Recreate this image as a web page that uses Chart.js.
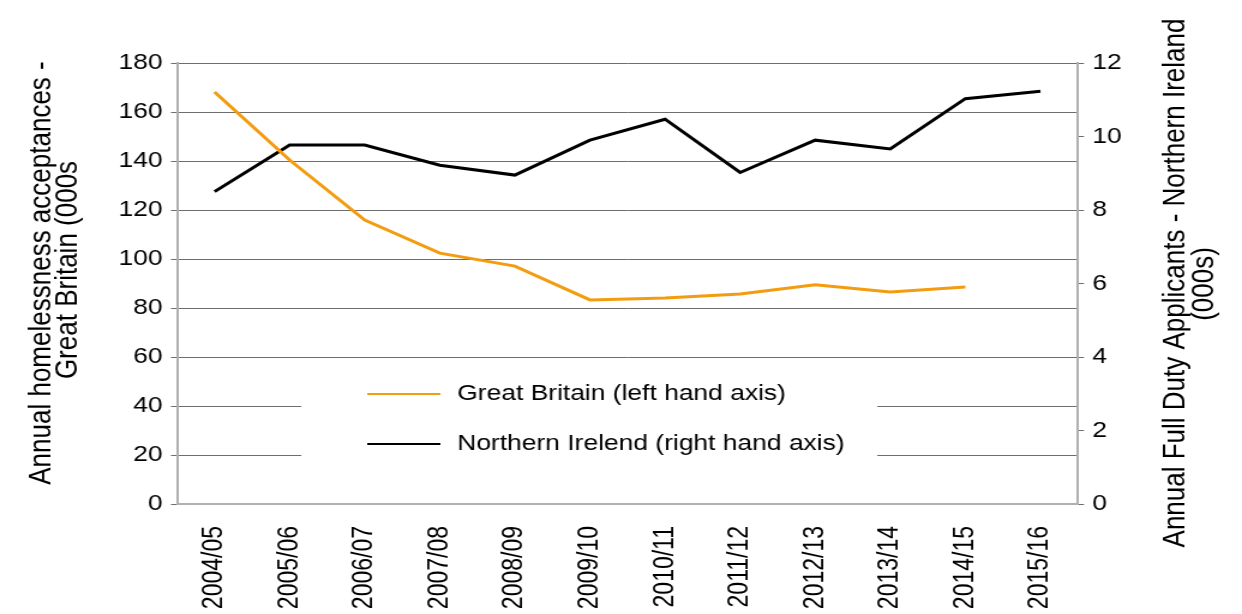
<!DOCTYPE html>
<html>
<head>
<meta charset="utf-8">
<script src="https://cdn.jsdelivr.net/npm/chart.js@4.4.1/dist/chart.umd.min.js"></script>
<style>
  html, body { margin: 0; padding: 0; background: #fff; overflow: hidden; }
  #wrap { width: 1242px; height: 614px; overflow: hidden; }
  /* the original picture is stretched sideways, so draw narrow and widen */
  #homeless { display: block; transform: scaleX(1.2); transform-origin: 0 0; }
</style>
</head>
<body>
<div id="wrap"><canvas id="homeless" width="1035" height="614"></canvas></div>
<script>
const years = ['2004/05','2005/06','2006/07','2007/08','2008/09','2009/10',
               '2010/11','2011/12','2012/13','2013/14','2014/15','2015/16'];
const greatBritain = [168.2, 140.4, 115.9, 102.4, 97.1, 83.3, 84.1, 85.7, 89.5, 86.5, 88.6, null];
const northernIreland = [8.5, 9.77, 9.77, 9.22, 8.95, 9.9, 10.47, 9.02, 9.9, 9.66, 11.03, 11.23];
const leftTitle = ['Annual homelessness acceptances -', 'Great Britain (000s'];
const rightTitle = ['Annual Full Duty Applicants - Northern Ireland', '(000s)'];

const FONT = '"Liberation Sans", Arial, Helvetica, sans-serif';

// axis titles and the in-plot legend
const extras = {
    id: 'extras',
    afterDraw(chart) {
        const ctx = chart.ctx;
        ctx.save();
        ctx.fillStyle = '#000';
        ctx.textAlign = 'center';
        ctx.textBaseline = 'middle';
        ctx.font = '26px ' + FONT;
        function vtext(txt, x, y) {
            ctx.save();
            ctx.translate(x, y);
            ctx.rotate(-Math.PI / 2);
            ctx.fillText(txt, 0, 0);
            ctx.restore();
        }
        vtext(leftTitle[0], 35, 273);
        vtext(leftTitle[1], 56.5, 270);
        vtext(rightTitle[0], 980, 283);
        vtext(rightTitle[1], 1004, 284);

        // legend
        ctx.fillStyle = '#fff';
        ctx.fillRect(251, 368, 480, 118);
        ctx.font = '22px ' + FONT;
        ctx.textAlign = 'left';
        const rows = [394, 444];
        chart.data.datasets.forEach((ds, i) => {
            ctx.strokeStyle = ds.borderColor;
            ctx.lineWidth = 2;
            ctx.beginPath();
            ctx.moveTo(306, rows[i]);
            ctx.lineTo(367, rows[i]);
            ctx.stroke();
            ctx.fillStyle = '#000';
            ctx.fillText(ds.label, 381, rows[i]);
        });
        ctx.restore();
    }
};

const ctx = document.getElementById('homeless').getContext('2d');
const homeless = new Chart(ctx, {
    type: 'line',
    data: {
        labels: years,
        datasets: [{
            label: 'Great Britain (left hand axis)',
            data: greatBritain,
            yAxisID: 'yLeft',
            borderColor: '#f39c0f',
            borderWidth: 3,
            pointRadius: 0,
            fill: false
        }, {
            label: 'Northern Irelend (right hand axis)',
            data: northernIreland,
            yAxisID: 'yRight',
            borderColor: '#000000',
            borderWidth: 3,
            pointRadius: 0,
            fill: false
        }]
    },
    options: {
        responsive: false,
        animation: false,
        layout: { padding: { top: 63, left: 0, right: 0, bottom: 0 } },
        plugins: {
            legend: { display: false },
            tooltip: { enabled: false }
        },
        scales: {
            x: {
                offset: true,
                grid: { display: false, drawTicks: false },
                border: { display: true, color: '#b0b0b0', width: 2 },
                ticks: {
                    autoSkip: false,
                    minRotation: 90,
                    maxRotation: 90,
                    padding: 22,
                    color: '#000',
                    font: { family: FONT, size: 23 }
                },
                afterFit(scale) { scale.height = 110; }
            },
            yLeft: {
                position: 'left',
                min: 0,
                max: 180,
                ticks: {
                    stepSize: 20,
                    padding: 7,
                    color: '#000',
                    font: { family: FONT, size: 22 }
                },
                grid: { color: '#6e6e6e', lineWidth: 1, tickLength: 5, tickColor: '#6e6e6e' },
                border: { display: true, color: '#b0b0b0', width: 2 },
                afterFit(scale) { scale.width = 147.5; }
            },
            yRight: {
                position: 'right',
                min: 0,
                max: 12,
                ticks: {
                    stepSize: 2,
                    padding: 7,
                    color: '#000',
                    font: { family: FONT, size: 22 }
                },
                grid: { drawOnChartArea: false, tickLength: 5, tickColor: '#6e6e6e' },
                border: { display: true, color: '#b0b0b0', width: 2 },
                afterFit(scale) { scale.width = 136.7; }
            }
        }
    },
    plugins: [extras]
});
</script>
</body>
</html>
